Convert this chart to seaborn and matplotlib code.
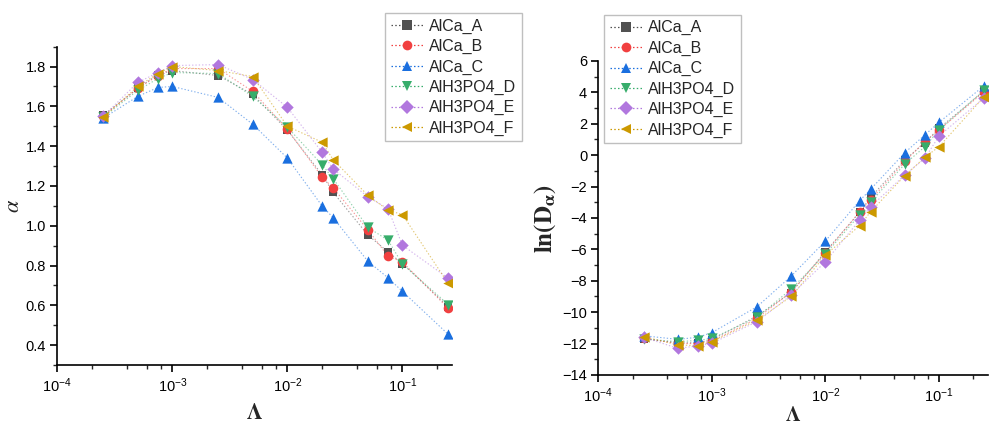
import numpy as np
import pandas as pd
import matplotlib
matplotlib.use("Agg")
import matplotlib.pyplot as plt
import seaborn as sns
from matplotlib.lines import Line2D
from matplotlib.ticker import LogLocator, MultipleLocator, NullFormatter

# ---- data ----
lam = [2.5e-4, 5e-4, 7.5e-4, 1e-3, 2.5e-3, 5e-3, 1e-2, 2e-2, 2.5e-2, 5e-2, 7.5e-2, 1e-1, 2.5e-1]
series = ["AlCa_A", "AlCa_B", "AlCa_C", "AlH3PO4_D", "AlH3PO4_E", "AlH3PO4_F"]

alpha_A = [1.555, 1.69, 1.76, 1.78, 1.755, 1.66, 1.48, 1.257, 1.168, 0.954, 0.868, 0.81, 0.593]
alpha_B = [1.55, 1.69, 1.755, 1.79, 1.79, 1.675, 1.485, 1.245, 1.19, 0.98, 0.847, 0.818, 0.585]
alpha_C = [1.54, 1.65, 1.695, 1.70, 1.645, 1.51, 1.34, 1.10, 1.04, 0.822, 0.738, 0.670, 0.454]
alpha_D = [1.545, 1.68, 1.74, 1.77, 1.765, 1.65, 1.495, 1.307, 1.237, 0.992, 0.927, 0.808, 0.604]
alpha_E = [1.55, 1.72, 1.77, 1.805, 1.81, 1.735, 1.595, 1.37, 1.285, 1.146, 1.085, 0.902, 0.736]
alpha_F = [1.545, 1.70, 1.765, 1.80, 1.78, 1.75, 1.50, 1.42, 1.332, 1.153, 1.078, 1.056, 0.710]

lnD_A = [-11.7, -11.95, -11.95, -11.75, -10.24, -8.75, -6.14, -3.65, -2.68, -0.3, 0.8, 1.71, 4.1]
lnD_B = [-11.65, -12.0, -12.0, -11.85, -10.4, -8.7, -6.2, -3.6, -2.85, -0.4, 0.86, 1.6, 4.05]
lnD_C = [-11.5, -11.73, -11.6, -11.3, -9.65, -7.7, -5.46, -2.9, -2.17, 0.16, 1.29, 2.09, 4.43]
lnD_D = [-11.7, -11.88, -11.8, -11.67, -10.33, -8.52, -6.3, -3.8, -3.0, -0.56, 0.54, 1.6, 4.15]
lnD_E = [-11.6, -12.3, -12.15, -11.98, -10.6, -8.9, -6.78, -4.13, -3.28, -1.26, -0.2, 1.22, 3.66]
lnD_F = [-11.55, -12.09, -12.13, -11.88, -10.5, -9.0, -6.36, -4.49, -3.6, -1.3, -0.14, 0.54, 3.73]

alpha_vals = [alpha_A, alpha_B, alpha_C, alpha_D, alpha_E, alpha_F]
lnD_vals = [lnD_A, lnD_B, lnD_C, lnD_D, lnD_E, lnD_F]

colors = ["#515151", "#F14040", "#1A6FDF", "#37AD6B", "#B177DE", "#CC9900"]
markers = ["s", "o", "^", "v", "D", "<"]
msizes = [40, 48, 55, 55, 40, 55]

rows = []
for name, av, lv in zip(series, alpha_vals, lnD_vals):
    for x, a, l in zip(lam, av, lv):
        rows.append({"series": name, "lam": x, "alpha": a, "lnD": l})
df = pd.DataFrame(rows)

sns.set_style("ticks")
plt.rcParams["font.family"] = ["Liberation Sans", "DejaVu Sans"]
plt.rcParams["mathtext.fontset"] = "stix"

fig = plt.figure(figsize=(9.9, 4.24), dpi=100)
ax1 = fig.add_axes([0.0579, 0.1392, 0.3987, 0.7507])
ax2 = fig.add_axes([0.6044, 0.1156, 0.3936, 0.7406])

LS = (0, (1.2, 1.8))


def draw(ax, ycol):
    for name, c, m, s in zip(series, colors, markers, msizes):
        sub = df[df["series"] == name]
        sns.lineplot(data=sub, x="lam", y=ycol, ax=ax, color=c, linestyle=LS,
                     linewidth=0.8, alpha=0.55, legend=False, sort=False)
        sns.scatterplot(data=sub, x="lam", y=ycol, ax=ax, color=c, marker=m, s=s,
                        linewidth=0, legend=False, zorder=3)
    ax.set_xscale("log")
    ax.set_xlim(1e-4, 0.27)
    ax.xaxis.set_major_locator(LogLocator(base=10, numticks=10))
    ax.xaxis.set_minor_locator(LogLocator(base=10, subs=[2, 4, 6, 8], numticks=10))
    ax.xaxis.set_minor_formatter(NullFormatter())
    sns.despine(ax=ax)
    for sp in ["left", "bottom"]:
        ax.spines[sp].set_linewidth(1.2)
        ax.spines[sp].set_color("black")
    ax.tick_params(axis="both", which="major", direction="out", length=5, width=1.2,
                   labelsize=10.5, colors="black", pad=3)
    ax.tick_params(axis="both", which="minor", direction="out", length=3, width=1.0)
    handles = [Line2D([0], [0], color=c, marker=m, linestyle=LS, linewidth=0.9,
                      markersize=7, markeredgewidth=0, alpha=1.0)
               for c, m in zip(colors, markers)]
    return handles


h = draw(ax1, "alpha")
ax1.set_ylim(0.3, 1.9)
ax1.yaxis.set_major_locator(MultipleLocator(0.2))
ax1.yaxis.set_minor_locator(MultipleLocator(0.1))
ax1.set_yticks([0.4, 0.6, 0.8, 1.0, 1.2, 1.4, 1.6, 1.8])
ax1.set_xlabel(r"$\mathbf{\Lambda}$", fontsize=16, labelpad=6)
ax1.set_ylabel(r"$\alpha$", fontsize=16, labelpad=1)

draw(ax2, "lnD")
ax2.set_ylim(-14, 6)
ax2.yaxis.set_major_locator(MultipleLocator(2))
ax2.yaxis.set_minor_locator(MultipleLocator(1))
ax2.set_xlabel(r"$\mathbf{\Lambda}$", fontsize=15, labelpad=1)
ax2.set_ylabel(r"$\mathbf{ln(D}_{\mathbf{\alpha}}\mathbf{)}$", fontsize=18, labelpad=3)

for (lx, ly) in [(0.3889, 0.9693), (0.6101, 0.9653)]:
    leg = fig.legend(h, series, loc="upper left", bbox_to_anchor=(lx, ly),
                     bbox_transform=fig.transFigure, frameon=True, fancybox=False,
                     fontsize=11.5, labelspacing=0.33, handlelength=2.0, handletextpad=0.4,
                     borderpad=0.35, borderaxespad=0)
    leg.get_frame().set_edgecolor("#b0b0b0")
    leg.get_frame().set_linewidth(1.0)

fig.savefig("out.png", dpi=100)
